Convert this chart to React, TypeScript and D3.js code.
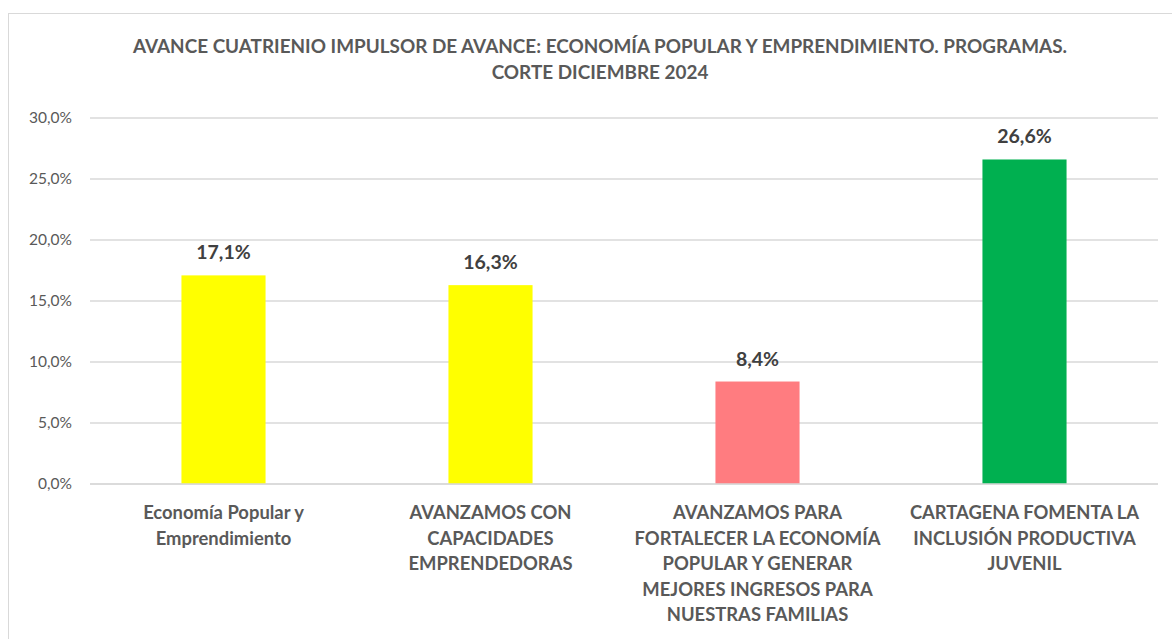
import React from 'react';
import * as d3 from 'd3';

const titleLines = [
  "AVANCE CUATRIENIO IMPULSOR DE AVANCE: ECONOMÍA POPULAR Y EMPRENDIMIENTO. PROGRAMAS.",
  "CORTE DICIEMBRE 2024",
];

const categories = [
  ["Economía Popular y", "Emprendimiento"],
  ["AVANZAMOS CON", "CAPACIDADES", "EMPRENDEDORAS"],
  ["AVANZAMOS PARA", "FORTALECER LA ECONOMÍA", "POPULAR Y GENERAR", "MEJORES INGRESOS PARA", "NUESTRAS FAMILIAS"],
  ["CARTAGENA FOMENTA LA", "INCLUSIÓN PRODUCTIVA", "JUVENIL"],
];
const values = [0.171, 0.163, 0.084, 0.266];
const barColors = ["#FFFF00", "#FFFF00", "#FF7C80", "#00B050"];
const yTicks = [0, 0.05, 0.1, 0.15, 0.2, 0.25, 0.3];

const W = 1172;
const H = 639;
const FONT = "Lato, Carlito, Calibri, sans-serif";

const App = () => {
  const x = d3.scaleBand<number>()
    .domain(d3.range(categories.length))
    .range([90, 1158])
    .paddingInner(0.685)
    .paddingOuter(0.3425);
  const y = d3.scaleLinear().domain([0, 0.3]).range([484, 118]);
  const pct = (v: number) => d3.format(".1f")(v * 100).replace(".", ",") + "%";

  return (
    <svg width={W} height={H} style={{ position: "absolute", left: 0, top: 0 }} fontFamily={FONT}>
      <rect x={0} y={0} width={W} height={H} fill="#fff" />
      <rect x={8.5} y={13.5} width={1170} height={700} fill="#fff" stroke="#d9d9d9" />
      {titleLines.map((t, i) => (
        <text key={i} x={600} y={53 + i * 26} textAnchor="middle" fontSize={18.9} fontWeight="bold" fill="#595959">{t}</text>
      ))}
      {yTicks.map((t) => (
        <g key={t}>
          <line x1={90} x2={1158} y1={y(t)} y2={y(t)} stroke="#d9d9d9" strokeWidth={1.5} />
          <text x={72} y={y(t)} dy="0.35em" textAnchor="end" fontSize={15.5} fill="#595959">{pct(t)}</text>
        </g>
      ))}
      {values.map((v, i) => (
        <g key={i}>
          <rect x={x(i)} y={y(v)} width={x.bandwidth()} height={y(0) - y(v)} fill={barColors[i]} />
          <text x={(x(i) as number) + x.bandwidth() / 2} y={y(v) - 16} textAnchor="middle" fontSize={19.5} fontWeight="bold" fill="#404040">{pct(v)}</text>
        </g>
      ))}
      <line x1={90} x2={1158} y1={y(0)} y2={y(0)} stroke="#d9d9d9" strokeWidth={1.5} />
      {categories.map((lines, i) => (
        <text key={i} textAnchor="middle" fontSize={18.4} fontWeight="bold" fill="#595959">
          {lines.map((l, j) => (
            <tspan key={j} x={(x(i) as number) + x.bandwidth() / 2} y={519 + j * 25.5}>{l}</tspan>
          ))}
        </text>
      ))}
    </svg>
  );
};

export default App;
